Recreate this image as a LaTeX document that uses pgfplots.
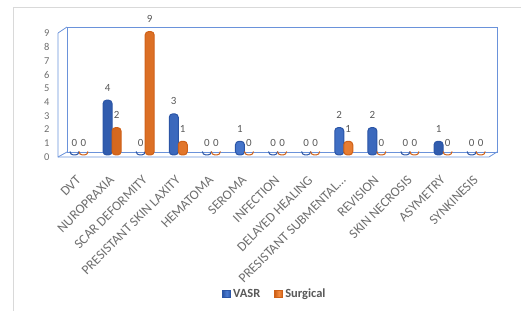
\documentclass[border=0pt]{standalone}
\usepackage{pgfplots}
\pgfplotsset{compat=1.18}
\usepackage{fontspec}
\setmainfont{Carlito}
\definecolor{frameblue}{HTML}{6A92DA}
\definecolor{bluemid}{HTML}{4A7BD2}
\definecolor{bluedark}{HTML}{2B55A6}
\definecolor{orgmid}{HTML}{F38A3E}
\definecolor{orgdark}{HTML}{CF6118}
\definecolor{txtgray}{HTML}{595959}
\definecolor{lblgray}{HTML}{6E6E6E}
\definecolor{bordergray}{HTML}{D9D9D9}
\begin{document}
\begin{tikzpicture}
\useasboundingbox (0,0) rectangle (521bp,311bp);
\draw[bordergray, line width=0.8bp] (13bp,0) -- (13bp,304bp) -- (521bp,304bp);
\begin{axis}[
  at={(58bp,154bp)}, anchor=south west,
  scale only axis, width=439bp, height=130bp,
  xmin=-0.634, xmax=12.63, ymin=-0.146, ymax=9.33,
  axis line style={draw=none}, tick style={draw=none},
  clip=false,
  ybar=0pt, bar width=9bp,
  ytick={0,...,9},
  xtick={0,...,12},
  xticklabels={DVT,NUROPRAXIA,SCAR DEFORMITY,PRESISTANT SKIN LAXITY,HEMATOMA,SEROMA,INFECTION,DELAYED HEALING,PRESISTANT SUBMENTAL\ldots,REVISION,SKIN NECROSIS,ASYMETRY,SYNKINESIS},
  /pgf/number format/assume math mode=true,
  yticklabel style={font=\fontsize{10.5}{12}\selectfont, text=lblgray, xshift=-5bp, yshift=-2bp},
  xticklabel style={font=\fontsize{13.5}{15}\selectfont, text=lblgray, xshift=-3.5bp, yshift=-12bp, rotate=45, anchor=north east, inner sep=1bp},
  nodes near coords,
  every node near coord/.append style={font=\fontsize{11}{12}\selectfont, text=txtgray, anchor=south, yshift=5bp},
  legend style={at={(0.494,-1.054)}, anchor=center, draw=none, legend columns=2,
    font=\bfseries\fontsize{12.5}{14}\selectfont, text=txtgray,
    /tikz/every even column/.append style={column sep=12bp}},
  legend image code/.code={\fill[#1, sharp corners] (0bp,-3.5bp) rectangle (8bp,3.5bp);},
]
% 3D frame
\draw[frameblue, line width=0.8bp] (axis cs:-0.3625,0.2187) rectangle (axis cs:12.628,9.33);
\draw[frameblue, line width=0.8bp] (axis cs:-0.634,8.892) -- (axis cs:-0.3625,9.33);
\draw[frameblue, line width=0.8bp] (axis cs:-0.634,8.892) -- (axis cs:-0.634,-0.146) -- (axis cs:12.387,-0.146) -- (axis cs:12.628,0.2187);
\draw[frameblue, line width=0.8bp] (axis cs:-0.634,-0.146) -- (axis cs:-0.3625,0.2187);
\addplot[draw=bluedark, line width=1bp, left color=bluedark, right color=bluedark, middle color=bluemid, rounded corners=3.5bp]
 coordinates {(0,0) (1,4) (2,0) (3,3) (4,0) (5,1) (6,0) (7,0) (8,2) (9,2) (10,0) (11,1) (12,0)};
\addplot[draw=orgdark, line width=1bp, left color=orgdark, right color=orgdark, middle color=orgmid, rounded corners=3.5bp]
 coordinates {(0,0) (1,2) (2,9) (3,1) (4,0) (5,0) (6,0) (7,0) (8,1) (9,0) (10,0) (11,0) (12,0)};
\legend{VASR,Surgical}
\end{axis}
\end{tikzpicture}
\end{document}
